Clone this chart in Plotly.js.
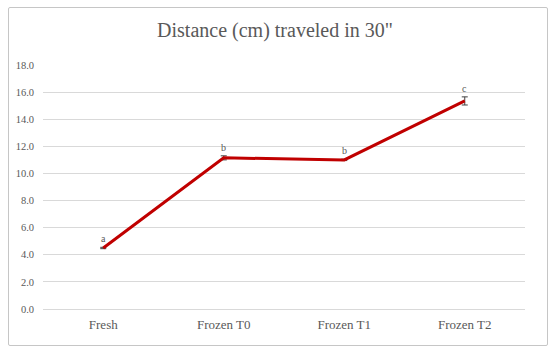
<!DOCTYPE html>
<html>
<head>
<meta charset="utf-8">
<script src="https://cdn.plot.ly/plotly-3.0.1.min.js"></script>
<style>
  body { margin: 0; background: #fff; }
  #wrap { position: relative; width: 550px; height: 355px; }
  #chart { position: absolute; left: 0; top: 0; width: 550px; height: 355px; }
  #frame { position: absolute; left: 8px; top: 7px; width: 538px; height: 337px;
           border: 1px solid #c6c6c6; border-radius: 2px; pointer-events: none; }
</style>
</head>
<body>
<div id="wrap">
  <div id="chart"></div>
  <div id="frame"></div>
</div>
<script>
const groups = ['Fresh', 'Frozen T0', 'Frozen T1', 'Frozen T2'];
const distance = [4.5, 11.15, 11.0, 15.35];
const errors = [0.05, 0.15, 0.05, 0.3];
const letters = ['a', 'b', 'b', 'c'];
const yTicks = [0, 2, 4, 6, 8, 10, 12, 14, 16, 18];

const serif = '"Liberation Serif", serif';

const line = {
  x: groups,
  y: distance,
  type: 'scatter',
  mode: 'lines',
  line: {color: '#C00000', width: 3},
  error_y: {type: 'data', array: errors, visible: true, color: '#404040', thickness: 1, width: 3},
  hoverinfo: 'x+y'
};

const notes = groups.map((g, i) => ({
  x: g,
  y: distance[i] + errors[i],
  text: letters[i],
  showarrow: false,
  yanchor: 'bottom',
  yshift: 1,
  font: {family: serif, size: 10, color: '#595959'}
}));

const layout = {
  width: 550,
  height: 355,
  margin: {l: 43, r: 25, t: 65, b: 46},
  paper_bgcolor: '#fff',
  plot_bgcolor: '#fff',
  showlegend: false,
  title: {
    text: 'Distance (cm) traveled in 30"',
    x: 0.5, xanchor: 'center', y: 0.915, yanchor: 'middle',
    font: {family: serif, size: 20, color: '#595959'}
  },
  xaxis: {
    type: 'category',
    range: [-0.5, 3.5],
    showgrid: false,
    showline: false,
    ticks: '',
    ticklabelstandoff: 6,
    tickfont: {family: serif, size: 13, color: '#595959'}
  },
  yaxis: {
    range: [0, 18],
    tickvals: yTicks,
    ticktext: yTicks.map(v => v.toFixed(1)),
    showgrid: true,
    gridcolor: '#d9d9d9',
    gridwidth: 1,
    zeroline: true,
    zerolinecolor: '#d9d9d9',
    zerolinewidth: 1,
    showline: false,
    ticks: '',
    ticklabelstandoff: 8,
    tickfont: {family: serif, size: 10.5, color: '#595959'}
  },
  annotations: notes
};

Plotly.newPlot('chart', [line], layout, {displayModeBar: false, staticPlot: true});
</script>
</body>
</html>
